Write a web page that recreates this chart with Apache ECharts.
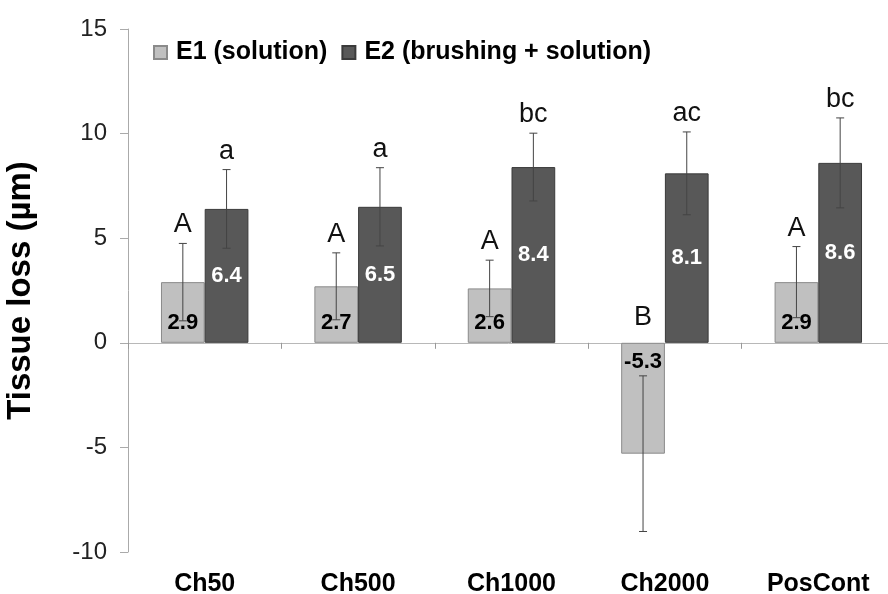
<!DOCTYPE html>
<html>
<head>
<meta charset="utf-8">
<script src="https://cdn.jsdelivr.net/npm/echarts@6/dist/echarts.min.js"></script>
<style>html,body{margin:0;padding:0;background:#fff;}#c{width:888px;height:594px;}</style>
</head>
<body>
<div id="c"></div>
<script>
const categories = ['Ch50', 'Ch500', 'Ch1000', 'Ch2000', 'PosCont'];
const e1Values = [2.9, 2.7, 2.6, -5.3, 2.9];
const e2Values = [6.4, 6.5, 8.4, 8.1, 8.6];
const e1Errors = [1.85, 1.6, 1.35, 3.72, 1.7];
const e2Errors = [1.88, 1.87, 1.62, 1.98, 2.15];
const e1Letters = ['A', 'A', 'A', 'B', 'A'];
const e2Letters = ['a', 'a', 'bc', 'ac', 'bc'];
const seriesNames = ['E1 (solution)', 'E2 (brushing + solution)'];

const FONT = '"Liberation Sans", Arial, sans-serif';
const GAP = 0.43;

function errorSeries(values, errors, letters, side, name) {
  return {
    type: 'custom',
    name: name + ' err',
    xAxisIndex: 1,
    z: 10,
    silent: true,
    data: values.map((v, i) => [i, v, errors[i]]),
    renderItem: function (params, api) {
      const i = api.value(0), v = api.value(1), e = api.value(2);
      const band = api.size([1, 0])[0];
      const off = side * band * (1 - GAP) / 4;
      const top = api.coord([i, v + e]);
      const bot = api.coord([i, v - e]);
      const zero = api.coord([i, 0]);
      const x = top[0] + off;
      const cap = 4;
      const st = { stroke: '#444', lineWidth: 1 };
      return {
        type: 'group',
        children: [
          { type: 'line', shape: { x1: x, y1: top[1], x2: x, y2: bot[1] }, style: st },
          { type: 'line', shape: { x1: x - cap, y1: top[1], x2: x + cap, y2: top[1] }, style: st },
          { type: 'line', shape: { x1: x - cap, y1: bot[1], x2: x + cap, y2: bot[1] }, style: st },
          {
            type: 'text', x: x, y: v >= 0 ? top[1] - 5 : zero[1] - 12,
            style: {
              text: letters[params.dataIndex], fill: '#111',
              fontSize: 27, fontFamily: FONT,
              align: 'center', verticalAlign: 'bottom'
            }
          }
        ]
      };
    }
  };
}

const chart = echarts.init(document.getElementById('c'), null, { renderer: 'canvas' });
chart.setOption({
  animation: false,
  backgroundColor: '#fff',
  textStyle: { fontFamily: FONT },
  grid: { left: 128, right: -7, top: 29, bottom: 42, containLabel: false, outerBoundsMode: 'none' },
  legend: {
    left: 148, top: 35,
    itemWidth: 13, itemHeight: 13, itemGap: 14,
    icon: 'rect',
    data: seriesNames,
    textStyle: { fontSize: 25, fontWeight: 'bold', color: '#000', fontFamily: FONT, padding: [0, 0, 0, 4] }
  },
  xAxis: [
    {
      type: 'category', data: categories, position: 'top',
      axisLine: { onZero: true, lineStyle: { color: '#b8b8b8', width: 1 } },
      axisTick: { show: true, inside: true, length: 6, lineStyle: { color: '#999' } },
      axisLabel: { show: false },
      splitLine: { show: false }
    },
    {
      type: 'category', data: categories, position: 'bottom',
      axisLine: { show: false, onZero: false },
      axisTick: { show: false },
      axisLabel: { fontSize: 25, fontWeight: 'bold', color: '#000', margin: 20, fontFamily: FONT },
      splitLine: { show: false }
    }
  ],
  yAxis: {
    type: 'value', min: -10, max: 15, interval: 5,
    name: 'Tissue loss (µm)', nameLocation: 'middle', nameGap: 91,
    nameTextStyle: { fontSize: 33, fontWeight: 'bold', color: '#000', fontFamily: FONT },
    axisLine: { show: true, lineStyle: { color: '#aaa' } },
    axisTick: { show: true, length: 8, lineStyle: { color: '#aaa' } },
    axisLabel: { fontSize: 24, color: '#222', margin: 21, fontFamily: FONT },
    splitLine: { show: false }
  },
  series: [
    {
      name: seriesNames[0], type: 'bar', xAxisIndex: 1,
      barGap: '0%', barCategoryGap: (GAP * 100) + '%',
      itemStyle: { color: '#c0c0c0', borderColor: '#8a8a8a', borderWidth: 1 },
      label: {
        show: true, position: 'insideBottom', distance: 9,
        fontSize: 22, fontWeight: 'bold', color: '#000', fontFamily: FONT,
        formatter: p => p.value.toFixed(1)
      },
      data: e1Values.map(v => v < 0 ? { value: v, label: { position: 'insideTop', distance: 8 } } : v)
    },
    {
      name: seriesNames[1], type: 'bar', xAxisIndex: 1,
      barGap: '0%', barCategoryGap: (GAP * 100) + '%',
      itemStyle: { color: '#585858', borderColor: '#3a3a3a', borderWidth: 1 },
      label: {
        show: true, position: 'inside',
        fontSize: 22, fontWeight: 'bold', color: '#fff', fontFamily: FONT,
        formatter: p => p.value.toFixed(1)
      },
      data: e2Values
    },
    errorSeries(e1Values, e1Errors, e1Letters, -1, 'E1'),
    errorSeries(e2Values, e2Errors, e2Letters, 1, 'E2')
  ]
});
</script>
</body>
</html>
